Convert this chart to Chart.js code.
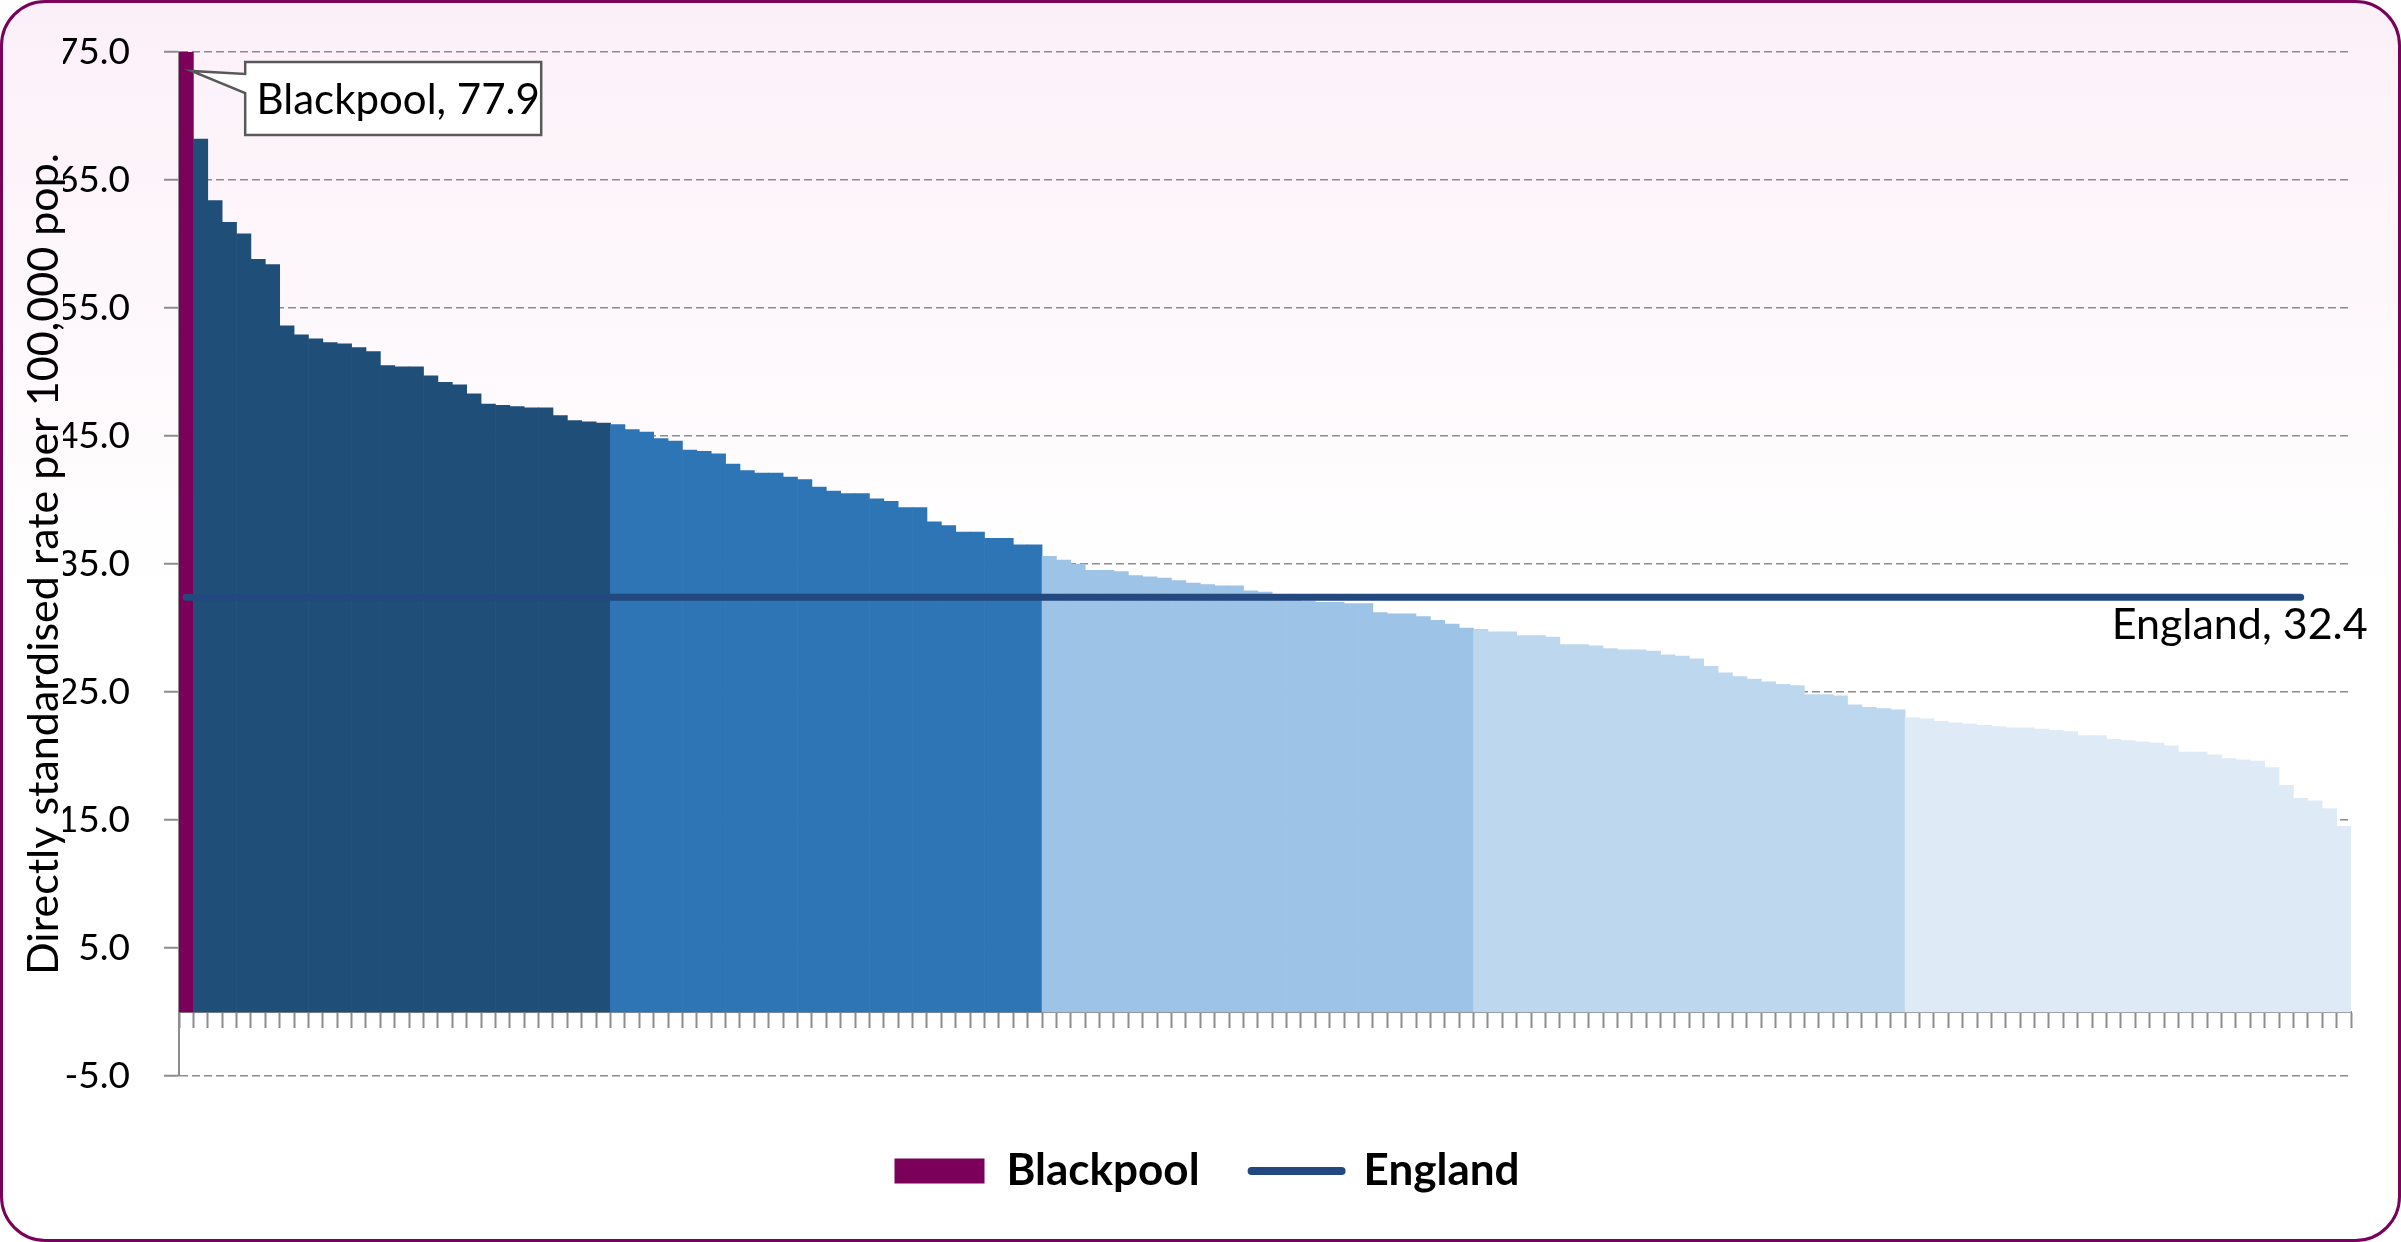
<!DOCTYPE html>
<html>
<head>
<meta charset="utf-8">
<title>Directly standardised rate per 100,000 pop.</title>
<script src="https://cdn.jsdelivr.net/npm/chart.js@4.4.1/dist/chart.umd.min.js"></script>
<style>
  html, body { margin: 0; padding: 0; background: #fff; }
  #wrap { width: 2401px; height: 1242px; }
</style>
</head>
<body>
<div id="wrap"><canvas id="grafico" width="2401" height="1242"></canvas></div>
<script>
// rates per quintile, highest first (Blackpool is the first one)
const quintile1 = [77.9, 68.2, 63.4, 61.7, 60.8, 58.8, 58.4, 53.6, 52.9, 52.6, 52.3, 52.2, 51.9, 51.6, 50.5,
                   50.4, 50.4, 49.7, 49.2, 49.0, 48.3, 47.5, 47.4, 47.3, 47.2, 47.2, 46.6, 46.2, 46.1, 46.0];
const quintile2 = [45.9, 45.5, 45.3, 44.8, 44.6, 43.9, 43.8, 43.6, 42.8, 42.3, 42.1, 42.1, 41.8, 41.6, 41.0,
                   40.7, 40.5, 40.5, 40.1, 39.9, 39.4, 39.4, 38.3, 38.0, 37.5, 37.5, 37.0, 37.0, 36.5, 36.5];
const quintile3 = [35.6, 35.3, 35.0, 34.5, 34.5, 34.4, 34.1, 34.0, 33.9, 33.7, 33.5, 33.4, 33.3, 33.3, 32.9,
                   32.8, 32.5, 32.3, 32.1, 32.0, 32.0, 31.9, 31.9, 31.2, 31.1, 31.1, 30.9, 30.6, 30.3, 30.0];
const quintile4 = [29.9, 29.7, 29.7, 29.4, 29.4, 29.3, 28.7, 28.7, 28.6, 28.4, 28.3, 28.3, 28.2, 27.9, 27.8,
                   27.6, 27.0, 26.5, 26.2, 26.0, 25.8, 25.6, 25.5, 24.8, 24.8, 24.7, 24.0, 23.8, 23.7, 23.6];
const quintile5 = [23.0, 22.9, 22.7, 22.6, 22.5, 22.4, 22.3, 22.2, 22.2, 22.1, 22.0, 21.9, 21.6, 21.6, 21.3,
                   21.2, 21.1, 21.0, 20.8, 20.3, 20.3, 20.1, 19.8, 19.7, 19.6, 19.1, 17.7, 16.7, 16.5, 15.9, 14.5];

const englandValue = 32.4;
const englandPoints = 148;   // the England line stops a few areas before the end
const yTicks = [-5, 5, 15, 25, 35, 45, 55, 65, 75];
const yTitle = 'Directly standardised rate per 100,000 pop.';

const blackpoolColour = '#7A0059';
const englandColour = '#22487F';
const quintileColours = ['#1F4E79', '#2E75B6', '#9DC3E6', '#BDD7EE', '#DEEBF7'];
const gridColour = '#8C8C8C';

const quintiles = [quintile1, quintile2, quintile3, quintile4, quintile5];
const rates = [].concat(...quintiles);
const areas = rates.map((v, i) => i === 0 ? 'Blackpool' : 'Area ' + (i + 1));

// one colour per bar, by quintile
const barColours = [];
quintiles.forEach((q, n) => q.forEach(() => barColours.push(quintileColours[n])));
barColours[0] = blackpoolColour;

const englandData = areas.map((a, i) => i < englandPoints ? englandValue : null);

// rounded frame with the pink fade at the top
const fondo = {
    id: 'fondo',
    beforeDraw(chart) {
        const c = chart.ctx;
        const w = chart.width, h = chart.height;
        c.save();
        const g = c.createLinearGradient(0, 0, 0, h);
        g.addColorStop(0, '#FCF0F8');
        g.addColorStop(0.48, '#FFFFFF');
        g.addColorStop(1, '#FFFFFF');
        c.beginPath();
        c.roundRect(1.5, 1.5, w - 3, h - 3, 44);
        c.fillStyle = g;
        c.fill();
        c.lineWidth = 3;
        c.strokeStyle = blackpoolColour;
        c.stroke();
        c.restore();
    }
};

// callout for Blackpool, the label under the England line and the y title
const etiquetas = {
    id: 'etiquetas',
    afterDatasetsDraw(chart) {
        const c = chart.ctx;
        const area = chart.chartArea;
        const bar = chart.getDatasetMeta(0).data[0];
        const tipX = bar.x + bar.width / 2 - 2;
        const tipY = area.top + 19;
        const left = bar.x + 59, top = area.top + 10, w = 296, h = 73;

        c.save();
        c.beginPath();
        c.moveTo(left, top);
        c.lineTo(left + w, top);
        c.lineTo(left + w, top + h);
        c.lineTo(left, top + h);
        c.lineTo(left, top + 31);
        c.lineTo(tipX, tipY);
        c.lineTo(left, top + 12);
        c.closePath();
        c.fillStyle = '#fff';
        c.fill();
        c.lineWidth = 2.5;
        c.strokeStyle = '#595959';
        c.stroke();

        c.fillStyle = '#000';
        c.font = '42px Lato';
        c.textAlign = 'center';
        c.textBaseline = 'middle';
        c.fillText('Blackpool, ' + rates[0].toFixed(1), left + w / 2 + 5, top + h / 2 + 2);

        const end = chart.getDatasetMeta(1).data[englandPoints - 1];
        c.font = '43px Lato';
        c.textAlign = 'right';
        c.textBaseline = 'top';
        c.fillText('England, ' + englandValue.toFixed(1), end.x + 67, end.y + 6);
        c.restore();
    },
    afterDraw(chart) {
        // the original's axis title sits over the tick labels
        const c = chart.ctx;
        const area = chart.chartArea;
        c.save();
        c.translate(44, (area.top + area.bottom) / 2);
        c.rotate(-Math.PI / 2);
        c.fillStyle = '#000';
        c.font = '43px Lato';
        c.textAlign = 'center';
        c.textBaseline = 'middle';
        c.fillText(yTitle, 0, 0);
        c.restore();
    }
};

function dibujar() {
    Chart.defaults.font.family = 'Lato';
    const ctx = document.getElementById('grafico').getContext('2d');
    new Chart(ctx, {
        type: 'bar',
        data: {
            labels: areas,
            datasets: [{
                label: 'Blackpool',
                data: rates,
                backgroundColor: barColours,
                borderWidth: 0,
                barPercentage: 1,
                categoryPercentage: 1,
                order: 2
            }, {
                type: 'line',
                label: 'England',
                data: englandData,
                borderColor: englandColour,
                borderWidth: 7,
                borderCapStyle: 'round',
                pointRadius: 0,
                fill: false,
                order: 1
            }]
        },
        options: {
            responsive: false,
            animation: false,
            events: [],
            // left padding is wide so the legend centres like the original; the y axis width makes up for it
            layout: { padding: { left: 63, right: 50, top: 52, bottom: 39 } },
            scales: {
                x: {
                    position: { y: 0 },
                    afterFit: s => { s.height = 0; },
                    ticks: { display: false },
                    grid: {
                        offset: true,
                        drawOnChartArea: false,
                        drawTicks: true,
                        tickLength: 15,
                        color: gridColour,
                        tickColor: gridColour,
                        tickWidth: 2
                    },
                    border: { display: true, color: gridColour, width: 2 }
                },
                y: {
                    min: yTicks[0],
                    max: yTicks[yTicks.length - 1],
                    afterFit: s => {
                        s.width = 116;
                        s.paddingTop = 0;
                        s.paddingBottom = 0;
                    },
                    afterBuildTicks: s => { s.ticks = yTicks.map(v => ({ value: v })); },
                    ticks: {
                        callback: v => v.toFixed(1),
                        color: '#000',
                        font: { size: 37 },
                        padding: 34
                    },
                    grid: {
                        color: gridColour,
                        lineWidth: 1.5,
                        tickLength: 15,
                        tickColor: gridColour,
                        tickWidth: 2,
                        tickBorderDash: []
                    },
                    border: { display: true, color: gridColour, width: 2, dash: [8, 4] },
                    title: { display: false }
                }
            },
            plugins: {
                legend: {
                    position: 'bottom',
                    title: { display: true, text: '', font: { size: 10 }, padding: { top: 9, bottom: 0 } },
                    labels: {
                        usePointStyle: true,
                        pointStyleWidth: 90,
                        boxHeight: 25,
                        padding: 52,
                        color: '#000',
                        font: { size: 44, weight: 'bold' },
                        generateLabels: () => [{
                            text: 'Blackpool',
                            fillStyle: blackpoolColour,
                            strokeStyle: blackpoolColour,
                            lineWidth: 0,
                            pointStyle: 'rect',
                            fontColor: '#000',
                            hidden: false,
                            datasetIndex: 0
                        }, {
                            text: 'England',
                            fillStyle: englandColour,
                            strokeStyle: englandColour,
                            lineWidth: 8,
                            lineCap: 'round',
                            pointStyle: 'line',
                            fontColor: '#000',
                            hidden: false,
                            datasetIndex: 1
                        }]
                    }
                },
                tooltip: { enabled: false }
            }
        },
        plugins: [fondo, etiquetas]
    });
}

Promise.all([
    document.fonts.load('40px Lato'),
    document.fonts.load('bold 40px Lato')
]).then(dibujar, dibujar);
</script>
</body>
</html>
